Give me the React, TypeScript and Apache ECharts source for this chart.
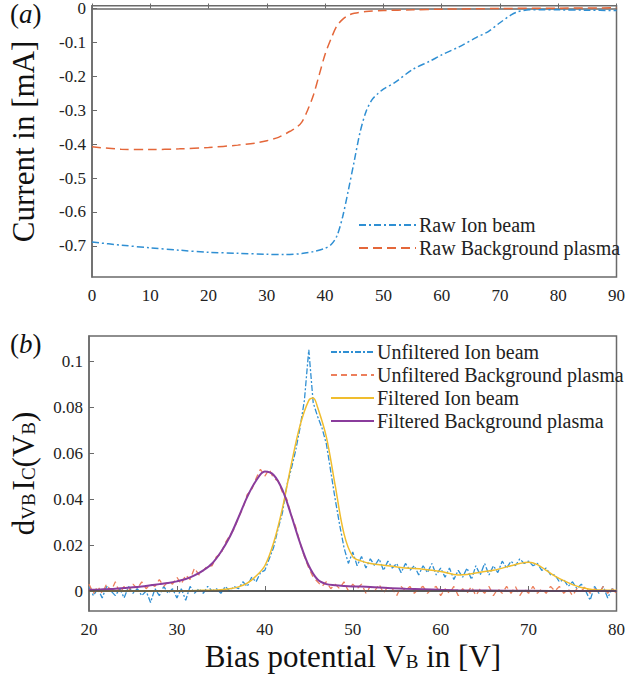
import React, { useEffect, useRef } from "react";
import * as echarts from "echarts";

// ---------- Panel (a): raw I-V curves ----------
const RAW_ION_X = [0, 5, 10, 15, 20, 25, 30, 33, 36, 38, 40, 41, 42, 43, 44, 45, 46, 47, 48, 49, 50, 52, 55, 58, 60, 63, 66, 68, 70, 72, 73, 74, 75, 77, 80, 85, 90];
const RAW_ION_Y = [-0.689, -0.698, -0.706, -0.713, -0.719, -0.722, -0.725, -0.726, -0.723, -0.717, -0.707, -0.697, -0.672, -0.615, -0.535, -0.45, -0.365, -0.305, -0.27, -0.252, -0.238, -0.218, -0.18, -0.155, -0.137, -0.113, -0.085, -0.068, -0.042, -0.018, -0.01, -0.006, -0.004, -0.004, -0.004, -0.005, -0.006];

const RAW_BG_X = [0, 5, 10, 15, 20, 25, 28, 30, 32, 34, 35, 36, 37, 38, 39, 40, 41, 42, 43, 44, 45, 47, 50, 55, 60, 70, 80, 90];
const RAW_BG_Y = [-0.408, -0.415, -0.416, -0.414, -0.41, -0.403, -0.397, -0.39, -0.38, -0.362, -0.352, -0.335, -0.3, -0.255, -0.195, -0.135, -0.09, -0.052, -0.032, -0.02, -0.014, -0.009, -0.006, -0.004, -0.002, 0, 0.001, 0.002];

const TOP_X_TICKS = [0, 10, 20, 30, 40, 50, 60, 70, 80, 90];
const TOP_Y_TICKS = [0, -0.1, -0.2, -0.3, -0.4, -0.5, -0.6, -0.7];

// ---------- Panel (b): derivative curves ----------
// unfiltered samples every 0.5 V from 20 V to 80 V
const NOISY_X0 = 20;
const NOISY_STEP = 0.5;
const UNF_ION = [
  0.002, -0.002, 0.001, -0.003, 0.002, 0.0, -0.002, 0.001, -0.003, 0.002,
  -0.001, 0.001, -0.002, 0.0, -0.005, 0.001, -0.002, 0.002, -0.001, 0.001,
  -0.003, 0.001, -0.004, 0.002, -0.001, 0.001, -0.001, 0.002, 0.0, 0.001,
  -0.001, 0.002, 0.0, 0.002, 0.001, 0.004, 0.002, 0.006, 0.004, 0.008,
  0.009, 0.014, 0.019, 0.027, 0.034, 0.046, 0.053, 0.061, 0.071, 0.083,
  0.105, 0.082, 0.076, 0.071, 0.064, 0.052, 0.04, 0.029, 0.019, 0.012,
  0.017, 0.011, 0.015, 0.01, 0.014, 0.011, 0.014, 0.009, 0.013, 0.01,
  0.012, 0.008, 0.012, 0.009, 0.011, 0.007, 0.011, 0.008, 0.012, 0.007,
  0.01, 0.006, 0.01, 0.005, 0.009, 0.006, 0.01, 0.005, 0.011, 0.007,
  0.012, 0.007, 0.011, 0.008, 0.013, 0.01, 0.013, 0.011, 0.014, 0.012,
  0.013, 0.011, 0.012, 0.009, 0.01, 0.007, 0.007, 0.004, 0.005, 0.002,
  0.004, 0.001, 0.003, 0.0, -0.004, 0.002, -0.001, 0.002, -0.003, 0.001,
  0.0,
];
const UNF_BG = [
  0.003, -0.001, 0.002, -0.001, 0.003, 0.0, 0.004, -0.001, 0.002, 0.0,
  0.003, 0.001, 0.004, 0.001, 0.003, 0.002, 0.005, 0.002, 0.004, 0.003,
  0.006, 0.003, 0.007, 0.005, 0.01, 0.007, 0.009, 0.011, 0.011, 0.015,
  0.016, 0.021, 0.024, 0.027, 0.032, 0.036, 0.042, 0.044, 0.049, 0.053,
  0.05, 0.053, 0.049, 0.048, 0.043, 0.04, 0.033, 0.028, 0.021, 0.015,
  0.01, 0.006, 0.004, 0.002, 0.004, 0.001, 0.003, 0.001, 0.004, 0.0,
  0.003, 0.001, 0.003, -0.001, 0.002, 0.0, 0.003, -0.001, 0.002, 0.001,
  -0.002, 0.002, 0.0, 0.002, -0.001, 0.001, 0.002, -0.001, 0.001, 0.002,
  -0.002, 0.001, -0.001, 0.002, -0.002, 0.001, -0.001, 0.002, -0.002, 0.001,
  -0.001, 0.002, -0.002, 0.001, -0.001, 0.002, -0.001, 0.002, -0.002, 0.001,
  -0.001, 0.002, -0.001, 0.001, -0.001, 0.002, 0.0, 0.002, -0.001, 0.001,
  -0.002, 0.001, 0.0, 0.002, -0.001, 0.001, -0.001, 0.002, -0.001, 0.001,
  -0.001,
];

const FILT_ION_X = [20, 25, 30, 33, 35, 36, 37, 38, 39, 40, 41, 42, 43, 44, 45, 45.5, 46, 47, 48, 49, 50, 51, 52, 54, 56, 58, 60, 62, 63, 65, 66, 68, 69, 70, 71, 72, 73, 74, 75, 76, 77, 78, 80];
const FILT_ION_Y = [0.0, 0.0, 0.0, 0.0003, 0.0006, 0.001, 0.0018, 0.0034, 0.0065, 0.011, 0.021, 0.036, 0.055, 0.072, 0.083, 0.084, 0.08, 0.067, 0.046, 0.025, 0.015, 0.013, 0.012, 0.011, 0.01, 0.0095, 0.0085, 0.007, 0.0072, 0.0085, 0.009, 0.011, 0.012, 0.0125, 0.0115, 0.009, 0.0065, 0.0045, 0.0028, 0.0015, 0.0008, 0.0004, 0.0003];

const FILT_BG_X = [20, 21, 22, 23, 24, 25, 26, 27, 28, 29, 30, 31, 32, 33, 34, 35, 36, 37, 38, 39, 40, 41, 42, 43, 44, 45, 46, 47, 48, 49, 50, 52, 54, 56, 58, 60, 62, 65, 70, 75, 80];
const FILT_BG_Y = [0.0005, 0.0006, 0.0008, 0.001, 0.0013, 0.0016, 0.002, 0.0025, 0.003, 0.0035, 0.0042, 0.0052, 0.0068, 0.009, 0.012, 0.017, 0.0235, 0.032, 0.041, 0.048, 0.052, 0.0505, 0.044, 0.033, 0.021, 0.011, 0.005, 0.003, 0.0025, 0.0022, 0.002, 0.0018, 0.0013, 0.001, 0.0008, 0.0005, 0.0003, 0.0002, 0.0001, 0, 0];

const BOT_X_TICKS = [20, 30, 40, 50, 60, 70, 80];
const BOT_Y_TICKS = [0, 0.02, 0.04, 0.06, 0.08, 0.1];

const SERIES_NAMES = {
  rawIon: "Raw Ion beam",
  rawBg: "Raw Background plasma",
  unfIon: "Unfiltered Ion beam",
  unfBg: "Unfiltered Background plasma",
  filIon: "Filtered Ion beam",
  filBg: "Filtered Background plasma",
};

const FONT = "Liberation Serif";
const AXIS_COLOR = "#6a6a6a";
const BLUE = "#2f8fd3";
const ORANGE = "#e4673a";
const ORANGE_LIGHT = "#ec7f5c";
const YELLOW = "#f0bd2e";
const PURPLE = "#8a3c9c";

const zip = (xs: number[], ys: number[]) => xs.map((x, i) => [x, ys[i]]);

export default function App() {
  const ref = useRef<HTMLDivElement>(null);

  useEffect(() => {
    document.body.style.margin = "0";
    if (!ref.current) return;
    const chart = echarts.init(ref.current, undefined, { renderer: "svg" });

    const axisCommon = {
      axisLine: { show: true, lineStyle: { color: AXIS_COLOR, width: 1.5 } },
      axisTick: { show: true, inside: true, length: 5, lineStyle: { color: AXIS_COLOR, width: 1 } },
      splitLine: { show: false },
    };
    const fmt = (v: number) => (Math.abs(v) < 1e-9 ? "0" : String(Number(v.toFixed(2))));
    const labelCommon = {
      fontFamily: FONT,
      fontSize: 17,
      fontWeight: "normal",
      color: "#222",
      margin: 6,
      formatter: fmt,
    };
    const titleRich = {
      n: { fontFamily: FONT, fontSize: 31, color: "#111", verticalAlign: "bottom" },
      s: { fontFamily: FONT, fontSize: 19, color: "#111", verticalAlign: "bottom", padding: [0, 0, 1, 0] },
    };
    const legendText = { fontFamily: FONT, fontSize: 20, color: "#222", lineHeight: 20, padding: [0, 0, 0, -2] };

    const option: any = {
      animation: false,
      backgroundColor: "#fff",
      textStyle: { fontFamily: FONT },
      grid: [
        { left: 88, top: 5, width: 530, height: 272, show: true, borderColor: AXIS_COLOR, borderWidth: 1.5, backgroundColor: "#fff" },
        { left: 88, top: 336, width: 530, height: 275, show: true, borderColor: AXIS_COLOR, borderWidth: 1.5, backgroundColor: "#fff" },
      ],
      xAxis: [
        {
          type: "value",
          gridIndex: 0,
          min: 0,
          max: 90,
          ...axisCommon,
          axisTick: { ...axisCommon.axisTick, customValues: TOP_X_TICKS },
          axisLabel: { ...labelCommon, margin: 10, customValues: TOP_X_TICKS },
        },
        {
          type: "value",
          gridIndex: 1,
          min: 20,
          max: 80,
          ...axisCommon,
          axisTick: { ...axisCommon.axisTick, customValues: BOT_X_TICKS },
          axisLabel: { ...labelCommon, margin: 10, customValues: BOT_X_TICKS },
          name: "{n|Bias potential V}{s|B}{n| in [V]}",
          nameLocation: "middle",
          nameGap: 30,
          nameTextStyle: { fontFamily: FONT, rich: titleRich },
        },
      ],
      yAxis: [
        {
          type: "value",
          gridIndex: 0,
          min: -0.792,
          max: 0.008,
          ...axisCommon,
          axisTick: { ...axisCommon.axisTick, customValues: TOP_Y_TICKS },
          axisLabel: { ...labelCommon, customValues: TOP_Y_TICKS },
          name: "{n|Current in [mA]}",
          nameLocation: "middle",
          nameGap: 53,
          nameTextStyle: { fontFamily: FONT, rich: titleRich },
        },
        {
          type: "value",
          gridIndex: 1,
          min: -0.0087,
          max: 0.111,
          ...axisCommon,
          axisTick: { ...axisCommon.axisTick, customValues: BOT_Y_TICKS },
          axisLabel: { ...labelCommon, customValues: BOT_Y_TICKS },
          name: "{n|d}{s|VB} {n|I}{s|C}{n|(V}{s|B}{n|)}",
          nameLocation: "middle",
          nameGap: 50,
          nameTextStyle: { fontFamily: FONT, rich: titleRich },
        },
      ],
      legend: [
        {
          orient: "vertical",
          left: 353,
          top: 210,
          itemWidth: 57,
          itemHeight: 12,
          itemGap: 3,
          itemStyle: { opacity: 0 },
          data: [SERIES_NAMES.rawIon, SERIES_NAMES.rawBg],
          textStyle: legendText,
        },
        {
          orient: "vertical",
          left: 325,
          top: 337,
          itemWidth: 43,
          itemHeight: 12,
          itemGap: 3,
          itemStyle: { opacity: 0 },
          data: [SERIES_NAMES.unfIon, SERIES_NAMES.unfBg, SERIES_NAMES.filIon, SERIES_NAMES.filBg],
          textStyle: legendText,
        },
      ],
      graphic: [
        {
          type: "text",
          left: 10,
          top: 0,
          style: {
            text: "{n|(}{i|a}{n|)}",
            rich: {
              n: { fontFamily: FONT, fontSize: 27, fill: "#111" },
              i: { fontFamily: FONT, fontSize: 27, fontStyle: "italic", fill: "#111" },
            },
          },
        },
        {
          type: "text",
          left: 10,
          top: 330,
          style: {
            text: "{n|(}{i|b}{n|)}",
            rich: {
              n: { fontFamily: FONT, fontSize: 27, fill: "#111" },
              i: { fontFamily: FONT, fontSize: 27, fontStyle: "italic", fill: "#111" },
            },
          },
        },
      ],
      series: [
        {
          name: SERIES_NAMES.rawIon,
          type: "line",
          xAxisIndex: 0,
          yAxisIndex: 0,
          smooth: 0.3,
          symbol: "none",
          data: zip(RAW_ION_X, RAW_ION_Y),
          lineStyle: { color: BLUE, width: 1.5, type: [7, 3, 2, 3] },
          itemStyle: { color: BLUE },
        },
        {
          name: SERIES_NAMES.rawBg,
          type: "line",
          xAxisIndex: 0,
          yAxisIndex: 0,
          smooth: 0.3,
          symbol: "none",
          data: zip(RAW_BG_X, RAW_BG_Y),
          lineStyle: { color: ORANGE, width: 1.5, type: [9, 5] },
          itemStyle: { color: ORANGE },
        },
        {
          name: SERIES_NAMES.unfIon,
          type: "line",
          xAxisIndex: 1,
          yAxisIndex: 1,
          symbol: "none",
          data: UNF_ION.map((v, i) => [NOISY_X0 + i * NOISY_STEP, v]),
          lineStyle: { color: BLUE, width: 1.3, type: [6, 2, 2, 2] },
          itemStyle: { color: BLUE },
          markLine: {
            silent: true,
            symbol: "none",
            label: { show: false },
            lineStyle: { color: "#4a4a4a", type: "solid", width: 1.5 },
            data: [{ yAxis: 0 }],
          },
        },
        {
          name: SERIES_NAMES.unfBg,
          type: "line",
          xAxisIndex: 1,
          yAxisIndex: 1,
          symbol: "none",
          data: UNF_BG.map((v, i) => [NOISY_X0 + i * NOISY_STEP, v]),
          lineStyle: { color: ORANGE_LIGHT, width: 1.3, type: [6, 4] },
          itemStyle: { color: ORANGE_LIGHT },
        },
        {
          name: SERIES_NAMES.filIon,
          type: "line",
          xAxisIndex: 1,
          yAxisIndex: 1,
          smooth: 0.35,
          symbol: "none",
          data: zip(FILT_ION_X, FILT_ION_Y),
          lineStyle: { color: YELLOW, width: 1.5, type: "solid" },
          itemStyle: { color: YELLOW },
        },
        {
          name: SERIES_NAMES.filBg,
          type: "line",
          xAxisIndex: 1,
          yAxisIndex: 1,
          smooth: 0.35,
          symbol: "none",
          data: zip(FILT_BG_X, FILT_BG_Y),
          lineStyle: { color: PURPLE, width: 2, type: "solid" },
          itemStyle: { color: PURPLE },
        },
      ],
    };

    chart.setOption(option);
    return () => chart.dispose();
  }, []);

  return <div ref={ref} style={{ width: 628, height: 679 }} />;
}
